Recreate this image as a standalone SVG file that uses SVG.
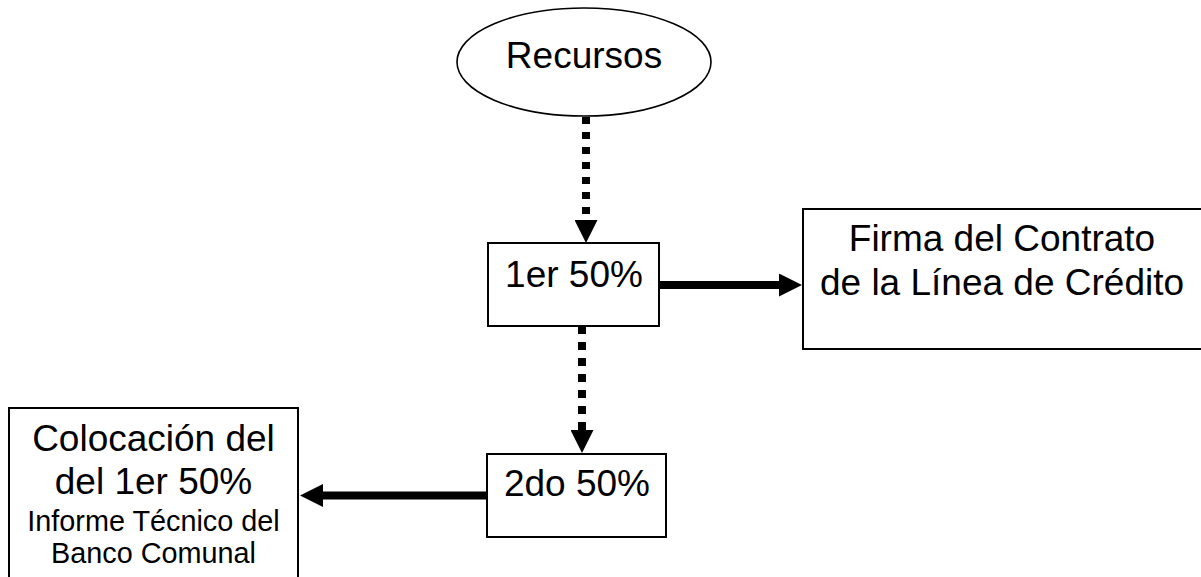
<svg xmlns="http://www.w3.org/2000/svg" width="1201" height="577" viewBox="0 0 1201 577">
  <style>
    .box { fill: #fff; stroke: #000; stroke-width: 2; }
    .oval { fill: #fff; stroke: #000; stroke-width: 1.6; }
    .big { font-family: "Liberation Sans", Arial, sans-serif; font-size: 37px; fill: #000; text-anchor: middle; }
    .small { font-family: "Liberation Sans", Arial, sans-serif; font-size: 28.8px; fill: #000; text-anchor: middle; }
    .flow { fill: none; stroke: #000; stroke-width: 8; }
    .dotted { stroke-dasharray: 8 8; }
  </style>
  <defs>
    <marker id="head" viewBox="0 0 23 23" refX="0" refY="11.5" markerWidth="23" markerHeight="23" markerUnits="userSpaceOnUse" orient="auto">
      <path d="M0,0 L23,11.5 L0,23 Z" fill="#000"/>
    </marker>
  </defs>

  <rect width="1201" height="577" fill="#fff"/>

  <g id="connectors">
    <path class="flow dotted" style="stroke-dasharray: 7 8" d="M586,117 L586,220" marker-end="url(#head)"/>
    <path class="flow dotted" d="M582,326 L582,430" marker-end="url(#head)"/>
    <path class="flow" d="M660,285 L779,285" marker-end="url(#head)"/>
    <path class="flow" d="M487,495.5 L323,495.5" marker-end="url(#head)"/>
  </g>

  <g id="recursos">
    <ellipse class="oval" cx="584" cy="62" rx="127" ry="54"/>
    <text class="big" x="584" y="68">Recursos</text>
  </g>

  <g id="primer-50">
    <rect class="box" x="488" y="243" width="171" height="83"/>
    <text class="big" x="574" y="287">1er 50%</text>
  </g>

  <g id="firma-contrato">
    <rect class="box" x="803" y="209" width="400" height="140"/>
    <text class="big" x="1002" y="251">Firma del Contrato</text>
    <text class="big" x="1002" y="295">de la Línea de Crédito</text>
  </g>

  <g id="segundo-50">
    <rect class="box" x="487" y="454" width="179" height="83"/>
    <text class="big" x="577" y="496">2do 50%</text>
  </g>

  <g id="colocacion">
    <rect class="box" x="9" y="408" width="289" height="190"/>
    <text class="big" x="153.5" y="451">Colocación del</text>
    <text class="big" x="153.5" y="494">del 1er 50%</text>
    <text class="small" x="153.5" y="531">Informe Técnico del</text>
    <text class="small" x="153.5" y="563">Banco Comunal</text>
  </g>
</svg>
